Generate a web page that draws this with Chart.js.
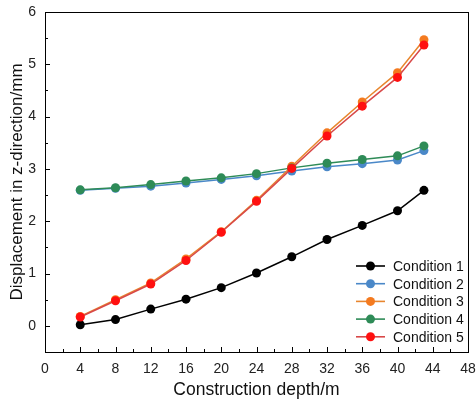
<!DOCTYPE html>
<html>
<head>
<meta charset="utf-8">
<script src="https://cdn.jsdelivr.net/npm/chart.js@4/dist/chart.umd.min.js"></script>
<style>
  html, body { margin: 0; padding: 0; background: #fff; }
</style>
</head>
<body>
<canvas id="disp" width="476" height="406"></canvas>
<script>
// construction depth (m)
const depths = [4, 8, 12, 16, 20, 24, 28, 32, 36, 40, 43];

// displacement in z-direction (mm)
const cond1 = [0.02, 0.12, 0.32, 0.51, 0.73, 1.01, 1.32, 1.65, 1.92, 2.20, 2.59];
const cond2 = [2.59, 2.63, 2.67, 2.73, 2.80, 2.87, 2.96, 3.04, 3.10, 3.17, 3.35];
const cond3 = [0.18, 0.50, 0.82, 1.28, 1.80, 2.40, 3.05, 3.69, 4.28, 4.84, 5.47];
const cond4 = [2.60, 2.64, 2.70, 2.77, 2.83, 2.91, 3.02, 3.11, 3.18, 3.25, 3.44];
const cond5 = [0.17, 0.48, 0.80, 1.25, 1.79, 2.38, 3.01, 3.63, 4.20, 4.75, 5.37];

const names = ["Condition 1", "Condition 2", "Condition 3", "Condition 4", "Condition 5"];
const xTicks = [0, 4, 8, 12, 16, 20, 24, 28, 32, 36, 40, 44, 48];
const xMinor = [2, 6, 10, 14, 18, 22, 26, 30, 34, 38, 42, 46];
const yTicks = [0, 1, 2, 3, 4, 5, 6];
const yMinor = [0.5, 1.5, 2.5, 3.5, 4.5, 5.5];

const pointColors = ["#000000", "#4a88c8", "#f47a1f", "#2e8b57", "#ff1010"];
const lineColors  = ["#000000", "#4a88c8", "#e8862e", "#2e8b57", "#d84848"];
const seriesList = [cond1, cond2, cond3, cond4, cond5];
// later conditions sit on top
const drawOrder = [4, 3, 2, 1, 0];

const FONT = "'Liberation Sans', Arial, sans-serif";

function pts(ys) {
    return depths.map((d, i) => ({x: d, y: ys[i]}));
}

// frame, inward ticks and the legend inside the plot
const framePlugin = {
    id: "frameLegend",
    afterDraw(chart) {
        const ctx = chart.ctx;
        const xs = chart.scales.x, ys = chart.scales.y;
        const L = Math.round(xs.getPixelForValue(0));
        const R = Math.round(xs.getPixelForValue(48));
        const T = Math.round(ys.getPixelForValue(6));
        const B = Math.round(ys.getPixelForValue(-0.5));
        ctx.save();
        ctx.globalAlpha = 1;
        ctx.globalCompositeOperation = "source-over";
        ctx.fillStyle = "#000000";
        ctx.fillRect(L, T, R - L + 1, 1);
        ctx.fillRect(L, B, R - L + 1, 1);
        ctx.fillRect(L, T, 1, B - T + 1);
        ctx.fillRect(R, T, 1, B - T + 1);
        xTicks.forEach(v => ctx.fillRect(Math.round(xs.getPixelForValue(v)), B - 5, 1, 5));
        xMinor.forEach(v => ctx.fillRect(Math.round(xs.getPixelForValue(v)), B - 3, 1, 3));
        yTicks.forEach(v => ctx.fillRect(L, Math.round(ys.getPixelForValue(v)), 5, 1));
        yMinor.forEach(v => ctx.fillRect(L, Math.round(ys.getPixelForValue(v)), 3, 1));

        ctx.font = "14px " + FONT;
        ctx.textBaseline = "middle";
        for (let i = 0; i < names.length; i++) {
            const yy = 266 + i * 17.7;
            ctx.strokeStyle = lineColors[i];
            ctx.lineWidth = 1.6;
            ctx.beginPath();
            ctx.moveTo(356, yy);
            ctx.lineTo(385, yy);
            ctx.stroke();
            ctx.fillStyle = pointColors[i];
            ctx.beginPath();
            ctx.arc(370.5, yy, 4.5, 0, Math.PI * 2);
            ctx.fill();
            ctx.fillStyle = "#111";
            ctx.fillText(names[i], 393, yy + 1);
        }
        ctx.restore();
    }
};

new Chart("disp", {
    type: "line",
    data: {
        datasets: seriesList.map((s, i) => ({
            label: names[i],
            data: pts(s),
            borderColor: lineColors[i],
            backgroundColor: pointColors[i],
            pointBackgroundColor: pointColors[i],
            pointBorderColor: pointColors[i],
            pointRadius: 4.5,
            pointBorderWidth: 0,
            borderWidth: 1.5,
            tension: 0,
            order: drawOrder[i]
        }))
    },
    options: {
        responsive: false,
        animation: false,
        devicePixelRatio: 1,
        layout: {padding: {left: 0, top: 12, right: 8, bottom: 0}},
        plugins: {
            legend: {display: false},
            tooltip: {enabled: false}
        },
        scales: {
            x: {
                type: "linear",
                min: 0,
                max: 48,
                afterBuildTicks: s => { s.ticks = xTicks.map(v => ({value: v})); },
                afterFit: s => { s.height = 54; s.paddingLeft = 0; s.paddingRight = 0; },
                grid: {display: false, drawTicks: false},
                border: {display: true, color: "#000000", width: 1},
                ticks: {padding: 9, color: "#222", font: {family: FONT, size: 14}, maxRotation: 0},
                title: {display: true, text: "Construction depth/m", color: "#111",
                        font: {family: FONT, size: 17.5}, padding: {top: 0, bottom: 5}}
            },
            y: {
                min: -0.5,
                max: 6,
                afterBuildTicks: s => { s.ticks = yTicks.map(v => ({value: v})); },
                afterFit: s => { s.width = 45; s.paddingTop = 0; s.paddingBottom = 0; },
                grid: {display: false, drawTicks: false},
                border: {display: true, color: "#000000", width: 1},
                ticks: {padding: 9, color: "#222", font: {family: FONT, size: 14}},
                title: {display: true, text: "Displacement in z-direction/mm", color: "#111",
                        font: {family: FONT, size: 17}, padding: {top: 7, bottom: 0}}
            }
        }
    },
    plugins: [framePlugin]
});
</script>
</body>
</html>
